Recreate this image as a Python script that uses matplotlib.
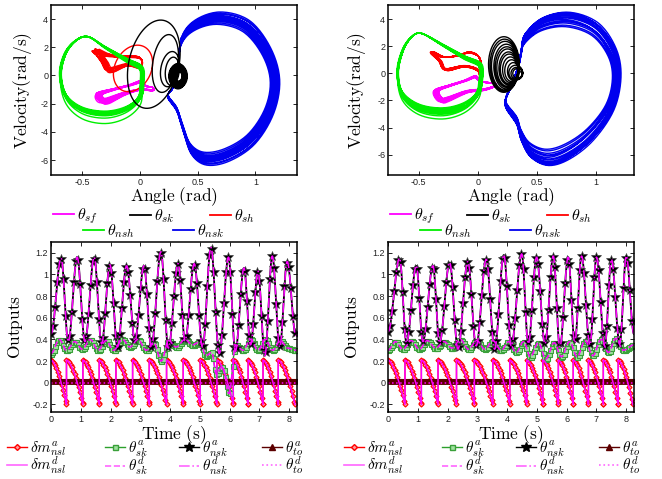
import numpy as np
import matplotlib
matplotlib.use("Agg")
import matplotlib.pyplot as plt
from matplotlib.lines import Line2D
from matplotlib.patches import Rectangle
from matplotlib.ticker import FormatStrFormatter

plt.rcParams['mathtext.fontset'] = 'cm'
plt.rcParams['axes.unicode_minus'] = False
plt.rcParams['font.family'] = ['Liberation Sans', 'DejaVu Sans']

# ---------------- phase portraits (angle, velocity) ----------------
# left panel
sf_ctrl_L = [(-0.37, -1.3), (-0.25, -1.0), (-0.1, -0.7), (0.0, -0.45), (0.05, -0.75), (0.11, -0.85),
             (0.11, -1.05), (0.0, -1.0), (-0.15, -1.3), (-0.3, -1.8), (-0.36, -1.75)]
sf_sx_L = [1.0, 0.95, 0.9, 1.02, 0.97, 0.92, 1.0, 0.94, 0.98, 0.9, 0.96, 1.01]
sf_sy_L = [1.0, 1.15, 0.85, 1.1, 0.9, 1.2, 0.95, 1.05, 0.8, 1.1, 1.0, 0.9]

sh_ctrl_L = [(-0.41, 1.75), (-0.3, 1.45), (-0.15, 1.35), (-0.02, 1.3), (0.02, 1.0), (0.0, 0.6),
             (-0.12, 0.75), (-0.28, 0.35), (-0.33, 0.9), (-0.38, 1.5)]
sh_sx_L = [1.0, 0.93, 0.86, 0.97, 0.9, 1.0, 0.84, 0.94, 0.99, 0.88]
sh_sy_L = [1.0, 0.85, 1.15, 0.75, 1.1, 0.95, 0.8, 1.2, 0.9, 1.05]
sh_ring_L = [(-0.06, 0.5, 0.165, 1.65, 0.04)]

nsh_ctrl_L = [(-0.45, 2.75), (-0.3, 2.0), (-0.12, 1.15), (0.01, 0.55), (0.02, -0.6), (0.0, -1.6),
              (-0.12, -2.4), (-0.3, -2.75), (-0.5, -2.45), (-0.64, -1.5), (-0.69, 0.0), (-0.65, 1.5),
              (-0.56, 2.45)]
nsh_sx_L = [1.0, 0.98, 1.02, 0.97, 1.0, 1.03, 0.99, 0.96, 1.01, 0.98, 1.0, 0.97]
nsh_sy_L = [1.12, 1.05, 1.0, 0.98, 1.02, 0.97, 1.0, 0.99, 0.96, 1.01, 0.98, 1.0]

nsk_ctrl_L = [(0.36, 2.6), (0.48, 3.8), (0.70, 4.35), (0.95, 3.75), (1.13, 1.9), (1.21, -0.3),
              (1.16, -2.6), (1.0, -4.7), (0.78, -5.9), (0.58, -6.2), (0.45, -5.5), (0.38, -4.0),
              (0.32, -2.5), (0.24, -1.5), (0.29, -0.8), (0.33, 0.5)]
nsk_sx_L = [1.0, 0.97, 0.94, 0.99, 0.92, 0.96, 0.98, 0.93, 0.95, 0.91, 0.97, 0.94, 0.99, 0.96]
nsk_sy_L = [1.03, 0.98, 0.92, 1.0, 0.88, 0.95, 0.97, 0.9, 0.94, 0.86, 0.96, 0.91, 1.01, 0.93]

sk_rings_L = [(0.12, 0.8, 0.22, 3.13, 0.06), (0.22, 0.85, 0.11, 2.05, 0.03),
              (0.26, 0.45, 0.08, 1.25, 0.02), (0.28, 0.3, 0.06, 1.0, 0.01)]
sk_blob_rx_L = [0.08, 0.075, 0.07, 0.065, 0.06, 0.055, 0.05, 0.045, 0.04, 0.035, 0.07, 0.06, 0.05]
sk_blob_ry_L = [0.85, 0.8, 0.78, 0.72, 0.68, 0.62, 0.55, 0.5, 0.42, 0.35, 0.9, 0.75, 0.6]

# right panel
sf_ctrl_R = [(-0.37, -1.3), (-0.25, -0.9), (-0.12, -0.55), (-0.03, -0.25), (0.02, -0.6), (0.14, -0.75),
             (0.14, -0.95), (0.05, -1.2), (-0.1, -1.35), (-0.25, -1.85), (-0.33, -2.0)]
sf_sx_R = [1.0, 0.96, 0.92, 1.01, 0.97, 0.93, 0.99, 0.95, 0.98, 0.94, 1.0, 0.96, 0.92, 0.98]
sf_sy_R = [1.0, 1.1, 0.9, 1.05, 0.95, 1.12, 0.92, 1.02, 0.88, 1.08, 0.97, 1.04, 0.93, 1.0]

sh_ctrl_R = [(-0.4, 1.55), (-0.3, 1.2), (-0.18, 1.3), (-0.08, 1.55), (0.0, 1.3), (0.03, 0.6),
             (0.02, -0.4), (0.0, 0.2), (-0.12, 0.5), (-0.28, 0.25), (-0.33, 0.9)]
sh_sx_R = [1.0, 0.97, 0.94, 0.99, 0.95, 1.0, 0.96, 0.93, 0.98, 0.95, 1.0, 0.97]
sh_sy_R = [1.0, 0.93, 1.05, 0.9, 1.02, 0.96, 0.88, 1.04, 0.94, 1.0, 0.91, 0.98]

nsh_ctrl_R = [(-0.48, 2.95), (-0.3, 2.1), (-0.12, 1.2), (0.02, 0.6), (0.03, -0.6), (0.0, -1.6),
              (-0.12, -2.5), (-0.3, -2.9), (-0.5, -2.6), (-0.64, -1.6), (-0.68, 0.0), (-0.64, 1.6),
              (-0.57, 2.6)]
nsh_sx_R = [1.0, 0.98, 1.01, 0.97, 0.99, 1.02, 0.98, 0.96, 1.0, 0.97, 0.99, 1.01]
nsh_sy_R = [1.08, 1.04, 1.0, 0.97, 1.02, 0.95, 1.0, 0.98, 0.94, 1.01, 0.96, 0.99]

nsk_ctrl_R = [(0.40, 2.9), (0.55, 4.1), (0.78, 4.5), (1.02, 3.7), (1.17, 1.8), (1.21, -0.3),
              (1.15, -2.7), (0.98, -4.9), (0.78, -6.3), (0.6, -6.8), (0.45, -6.2), (0.37, -5.0),
              (0.33, -3.8), (0.23, -2.35), (0.28, -1.0), (0.34, 0.5), (0.37, 1.8)]
nsk_sx_R = [1.0, 0.97, 0.95, 0.99, 0.93, 0.96, 0.98, 0.94, 0.97, 0.92, 0.99, 0.95, 0.97, 0.93]
nsk_sy_R = [1.0, 0.95, 0.88, 0.97, 0.82, 0.92, 0.98, 0.85, 0.93, 0.8, 0.96, 0.87, 0.99, 0.9]

sk_rings_R = [(0.22, 0.65, 0.13, 2.05, 0.0), (0.225, 0.6, 0.122, 1.92, 0.0), (0.23, 0.56, 0.115, 1.8, 0.0),
              (0.24, 0.5, 0.105, 1.65, 0.0), (0.245, 0.46, 0.098, 1.5, 0.0), (0.25, 0.42, 0.09, 1.38, 0.0),
              (0.26, 0.36, 0.082, 1.22, 0.0), (0.265, 0.32, 0.075, 1.1, 0.0), (0.275, 0.26, 0.066, 0.95, 0.0),
              (0.285, 0.2, 0.058, 0.8, 0.0), (0.3, 0.14, 0.05, 0.65, 0.0), (0.32, 0.05, 0.058, 0.55, 0.0),
              (0.33, 0.0, 0.05, 0.45, 0.0), (0.335, 0.0, 0.04, 0.35, 0.0)]

# ---------------- time series (extremes) ----------------
nsk_t_L = [0.0, 0.34, 0.58, 0.88, 1.14, 1.45, 1.70, 1.98, 2.23, 2.54, 2.82, 3.12, 3.37, 3.69, 3.94, 4.27,
           4.50, 4.81, 5.09, 5.37, 5.65, 5.96, 6.19, 6.48, 6.70, 6.95, 7.18, 7.43, 7.68, 7.93, 8.22]
nsk_v_L = [0.45, 1.15, 0.38, 1.16, 0.38, 1.16, 0.36, 1.09, 0.33, 1.08, 0.39, 1.08, 0.33, 1.21, 0.32, 1.10,
           0.39, 1.10, 0.33, 1.25, 0.27, 1.16, 0.29, 1.06, 0.35, 1.03, 0.25, 1.17, 0.33, 1.12, 0.44]
nsk_t_R = [0.0, 0.39, 0.62, 0.95, 1.17, 1.51, 1.73, 2.07, 2.35, 2.68, 2.96, 3.30, 3.58, 3.89, 4.14, 4.49,
           4.71, 4.99, 5.27, 5.55, 5.77, 6.05, 6.27, 6.50, 6.78, 7.00, 7.28, 7.50, 7.78, 8.00, 8.26]
nsk_v_R = [0.47, 1.15, 0.37, 1.08, 0.38, 1.08, 0.37, 1.11, 0.31, 1.12, 0.34, 1.14, 0.31, 1.18, 0.34, 1.19,
           0.36, 1.16, 0.36, 1.17, 0.33, 1.16, 0.37, 1.17, 0.35, 1.16, 0.34, 1.14, 0.36, 1.17, 0.45]

sk_t_L = [0.0, 0.28, 0.52, 0.80, 1.05, 1.32, 1.58, 1.85, 2.10, 2.40, 2.65, 2.92, 3.20, 3.45, 3.70, 3.95,
          4.20, 4.50, 4.75, 5.00, 5.20, 5.40, 5.55, 5.75, 5.98, 6.20, 6.45, 6.70, 6.95, 7.20, 7.45, 7.70,
          7.95, 8.22]
sk_v_L = [0.27, 0.40, 0.30, 0.38, 0.31, 0.40, 0.30, 0.39, 0.30, 0.40, 0.33, 0.40, 0.30, 0.37, 0.20, 0.39,
          0.33, 0.40, 0.35, 0.38, 0.25, 0.28, 0.08, 0.15, -0.10, 0.35, 0.30, 0.40, 0.30, 0.40, 0.30, 0.39,
          0.32, 0.30]
sk_t_R = [0.0, 0.25, 0.5, 0.78, 1.05, 1.32, 1.6, 1.88, 2.15, 2.43, 2.7, 2.98, 3.25, 3.52, 3.8, 4.05,
          4.3, 4.55, 4.78, 5.05, 5.3, 5.58, 5.82, 6.1, 6.35, 6.62, 6.88, 7.15, 7.4, 7.65, 7.9, 8.26]
sk_v_R = [0.30, 0.38, 0.31, 0.39, 0.31, 0.39, 0.32, 0.38, 0.32, 0.40, 0.31, 0.39, 0.31, 0.39, 0.30, 0.38,
          0.28, 0.38, 0.24, 0.37, 0.22, 0.37, 0.24, 0.38, 0.24, 0.39, 0.25, 0.40, 0.28, 0.41, 0.30, 0.35]

dm_jump_L = [0.52, 1.07, 1.62, 2.18, 2.74, 3.30, 3.88, 4.44, 5.01, 5.57, 6.12, 6.62, 7.12, 7.63, 8.19]
dm_jump_R = [0.57, 1.12, 1.68, 2.30, 2.90, 3.52, 4.09, 4.66, 5.20, 5.72, 6.22, 6.73, 7.23, 7.73, 8.22]
dm_top, dm_bot = 0.21, -0.2
to_level = 0.015
t_end = 8.26

# ---------------- helpers ----------------
def closed_curve(pts, n=14):
    p = np.asarray(pts, float)
    m = len(p)
    s = np.linspace(0, 1, n, endpoint=False)[:, None]
    segs = []
    for i in range(m):
        p0, p1, p2, p3 = p[i - 1], p[i], p[(i + 1) % m], p[(i + 2) % m]
        segs.append(0.5 * (2 * p1 + (-p0 + p2) * s + (2 * p0 - 5 * p1 + 4 * p2 - p3) * s ** 2
                           + (-p0 + 3 * p1 - 3 * p2 + p3) * s ** 3))
    out = np.vstack(segs)
    return np.vstack([out, out[:1]])


def cycles(ctrl, sx, sy, anchor):
    base = closed_curve(ctrl)
    a = np.asarray(anchor, float)
    loops = [a + (base - a) * np.array([kx, ky]) for kx, ky in zip(sx, sy)]
    xy = np.vstack(loops)
    return xy[:, 0], xy[:, 1]


def rings(params):
    th = np.linspace(0, 2 * np.pi, 90)
    xs, ys = [], []
    for cx, cy, rx, ry, sh in params:
        xs.append(cx + rx * np.cos(th) + sh * np.sin(th))
        ys.append(cy + ry * np.sin(th))
    return np.concatenate(xs), np.concatenate(ys)


def eased(tk, vk, t):
    tk, vk = np.asarray(tk), np.asarray(vk)
    i = np.clip(np.searchsorted(tk, t, side='right') - 1, 0, len(tk) - 2)
    s = np.clip((t - tk[i]) / (tk[i + 1] - tk[i]), 0, 1)
    return vk[i] + (vk[i + 1] - vk[i]) * (1 - np.cos(np.pi * s)) / 2


def sawtooth(jumps, dt=0.045):
    starts = [0.0] + list(jumps[:-1])
    ts, vs = [], []
    for a, b in zip(starts, jumps):
        tt = np.append(np.arange(a, b, dt), b)
        s = (tt - a) / (b - a)
        ts.append(tt)
        vs.append(dm_top - (dm_top - dm_bot) * s ** 1.6)
    return np.concatenate(ts), np.concatenate(vs)


MAG = '#ff00ff'
C_SF, C_SK, C_SH, C_NSH, C_NSK = MAG, 'k', 'r', '#00ee00', '#0000ee'


def style(ax):
    ax.tick_params(direction='in', top=True, right=True, length=3, width=0.7,
                   labelsize=6.5, pad=2, colors='#222222')
    for sp in ax.spines.values():
        sp.set_linewidth(1.1)


def phase(ax, side):
    d = globals()
    lw = 1.0
    x, y = cycles(d['sf_ctrl_' + side], d['sf_sx_' + side], d['sf_sy_' + side],
                  d['sf_ctrl_' + side][5])
    ax.plot(x, y, color=C_SF, lw=lw)
    x, y = cycles(d['sh_ctrl_' + side], d['sh_sx_' + side], d['sh_sy_' + side], (0.0, 1.1))
    ax.plot(x, y, color=C_SH, lw=lw)
    if side == 'L':
        x, y = rings(sh_ring_L)
        ax.plot(x, y, color=C_SH, lw=lw)
    x, y = cycles(d['nsh_ctrl_' + side], d['nsh_sx_' + side], d['nsh_sy_' + side],
                  d['nsh_ctrl_' + side][0])
    ax.plot(x, y, color=C_NSH, lw=lw)
    x, y = cycles(d['nsk_ctrl_' + side], d['nsk_sx_' + side], d['nsk_sy_' + side], (0.3, -0.8))
    ax.plot(x, y, color=C_NSK, lw=lw)
    if side == 'L':
        blob = [(0.33, -0.05, rx, ry, 0.0) for rx, ry in zip(sk_blob_rx_L, sk_blob_ry_L)]
        x, y = rings(sk_rings_L + blob)
    else:
        x, y = rings(sk_rings_R)
    ax.plot(x, y, color=C_SK, lw=lw)
    ax.set_xticks([-0.5, 0, 0.5, 1])
    ax.set_yticks([-6, -4, -2, 0, 2, 4])
    ax.xaxis.set_major_formatter(FormatStrFormatter('%g'))
    style(ax)


def outputs(ax, side):
    d = globals()
    t = np.arange(0, t_end, 0.01)
    tf = np.arange(0, t_end, 0.03)
    ts, vs = sawtooth(d['dm_jump_' + side])
    g = eased(d['sk_t_' + side], d['sk_v_' + side], t)
    b = eased(d['nsk_t_' + side], d['nsk_v_' + side], t)
    to = np.full_like(tf, to_level)
    ax.plot(ts, vs, color='r', lw=1, marker='D', ms=2.6, mfc='#ff9a9a', mec='r', mew=0.8)
    ax.plot(t, g, color='#2ca02c', lw=1, marker='s', ms=3.6, mfc='#9fe09f', mec='#3aa03a', mew=0.8,
            markevery=5)
    ax.plot(t, b, color='k', lw=1.3, marker='*', ms=7, mfc='k', mec='#444444', mew=0.5, markevery=7)
    ax.plot(tf, to, color='#5c0000', lw=1, marker='^', ms=3.2, mfc='#5c0000', mec='#5c0000')
    ax.plot(ts, vs, color=MAG, lw=1.1)
    ax.plot(t, g, color=MAG, lw=1.1, ls='--')
    ax.plot(t, b, color=MAG, lw=1.1, ls='-.')
    ax.plot(tf, np.zeros_like(tf), color=MAG, lw=1.1, ls=':')
    ax.set_xlim(0, t_end)
    ax.set_ylim(-0.27, 1.3)
    ax.set_xticks(range(0, 9))
    ax.set_yticks([-0.2, 0, 0.2, 0.4, 0.6, 0.8, 1.0, 1.2])
    ax.yaxis.set_major_formatter(FormatStrFormatter('%g'))
    style(ax)


W, H = 662, 479
fig = plt.figure(figsize=(W / 100, H / 100), dpi=100)
ax_tl = fig.add_axes([51 / W, 1 - 175 / H, 246 / W, 170 / H])
ax_tr = fig.add_axes([388 / W, 1 - 175 / H, 246 / W, 170 / H])
ax_bl = fig.add_axes([51 / W, 1 - 412 / H, 246 / W, 170 / H])
ax_br = fig.add_axes([388 / W, 1 - 412 / H, 246 / W, 170 / H])

phase(ax_tl, 'L')
ax_tl.set_xlim(-0.77, 1.36)
ax_tl.set_ylim(-7.06, 5.0)
phase(ax_tr, 'R')
ax_tr.set_xlim(-0.76, 1.32)
ax_tr.set_ylim(-7.5, 5.04)
outputs(ax_bl, 'L')
outputs(ax_br, 'R')

lab_fs = 12.5
for ax, yx in [(ax_tl, -0.07), (ax_tr, -0.081)]:
    ax.set_xlabel(r'$\mathrm{Angle\ (rad)}$', fontsize=lab_fs)
    ax.set_ylabel(r'$\mathrm{Velocity(rad/s)}$', fontsize=lab_fs)
    ax.xaxis.set_label_coords(0.5, -0.06)
    ax.yaxis.set_label_coords(yx, 0.5)
for ax in (ax_bl, ax_br):
    ax.set_xlabel(r'$\mathrm{Time\ (s)}$', fontsize=lab_fs)
    ax.set_ylabel(r'$\mathrm{Outputs}$', fontsize=lab_fs)
    ax.xaxis.set_label_coords(0.5, -0.064)
    ax.yaxis.set_label_coords(-0.106, 0.5)


def put_legend(handle, label, x_px, y_px, fs):
    fig.legend(handles=[handle], labels=[label], loc='center left',
               bbox_to_anchor=(x_px / W, 1 - y_px / H), frameon=False, borderpad=0,
               borderaxespad=0, handlelength=1.3, handletextpad=0.2, fontsize=fs)


# top legends
top_items = [(C_SF, r'$\theta_{sf}$', 53, 216), (C_SK, r'$\theta_{sk}$', 130, 216),
             (C_SH, r'$\theta_{sh}$', 210, 216), (C_NSH, r'$\theta_{nsh}$', 83, 231),
             (C_NSK, r'$\theta_{nsk}$', 173, 231)]
for off in (0, 337):
    for c, lab, x, y in top_items:
        put_legend(Line2D([], [], color=c, lw=1.3), lab, x + off, y, 11.5)

# bottom legends
h_dma = Line2D([], [], color='r', lw=1, marker='D', ms=3, mfc='#ff9a9a', mec='r')
h_ska = Line2D([], [], color='#2ca02c', lw=1, marker='s', ms=3.6, mfc='#9fe09f', mec='#3aa03a')
h_nska = Line2D([], [], color='k', lw=1, marker='*', ms=7, mfc='k')
h_toa = Line2D([], [], color='#5c0000', lw=1, marker='^', ms=4.5, mfc='#5c0000')
h_dmd = Line2D([], [], color='#ff66ff', lw=1.2)
h_skd = Line2D([], [], color='#ff66ff', lw=1.2, ls='--')
h_nskd = Line2D([], [], color='#ff66ff', lw=1.2, ls='-.')
h_tod = Line2D([], [], color='#ff66ff', lw=1.2, ls=':')
bottom_items = [(h_dma, r'$\delta m^a_{nsl}$', 0, 449), (h_dmd, r'$\delta m^d_{nsl}$', 0, 466),
                (h_ska, r'$\theta^a_{sk}$', 1, 449), (h_skd, r'$\theta^d_{sk}$', 1, 466),
                (h_nska, r'$\theta^a_{nsk}$', 2, 449), (h_nskd, r'$\theta^d_{nsk}$', 2, 466),
                (h_toa, r'$\theta^a_{to}$', 3, 449), (h_tod, r'$\theta^d_{to}$', 3, 466)]
col_x_L = [7, 105, 179, 262]
col_x_R = [344, 442, 516, 599]
for h, lab, col, y in bottom_items:
    put_legend(h, lab, col_x_L[col], y, 11)
    put_legend(h, lab, col_x_R[col], y, 11)

# the left legend is cut off in the original
fig.patches.append(Rectangle((307 / W, 0), 34 / W, 44 / H, transform=fig.transFigure,
                             facecolor='white', edgecolor='none', zorder=20))

fig.savefig('out.png', dpi=100)
